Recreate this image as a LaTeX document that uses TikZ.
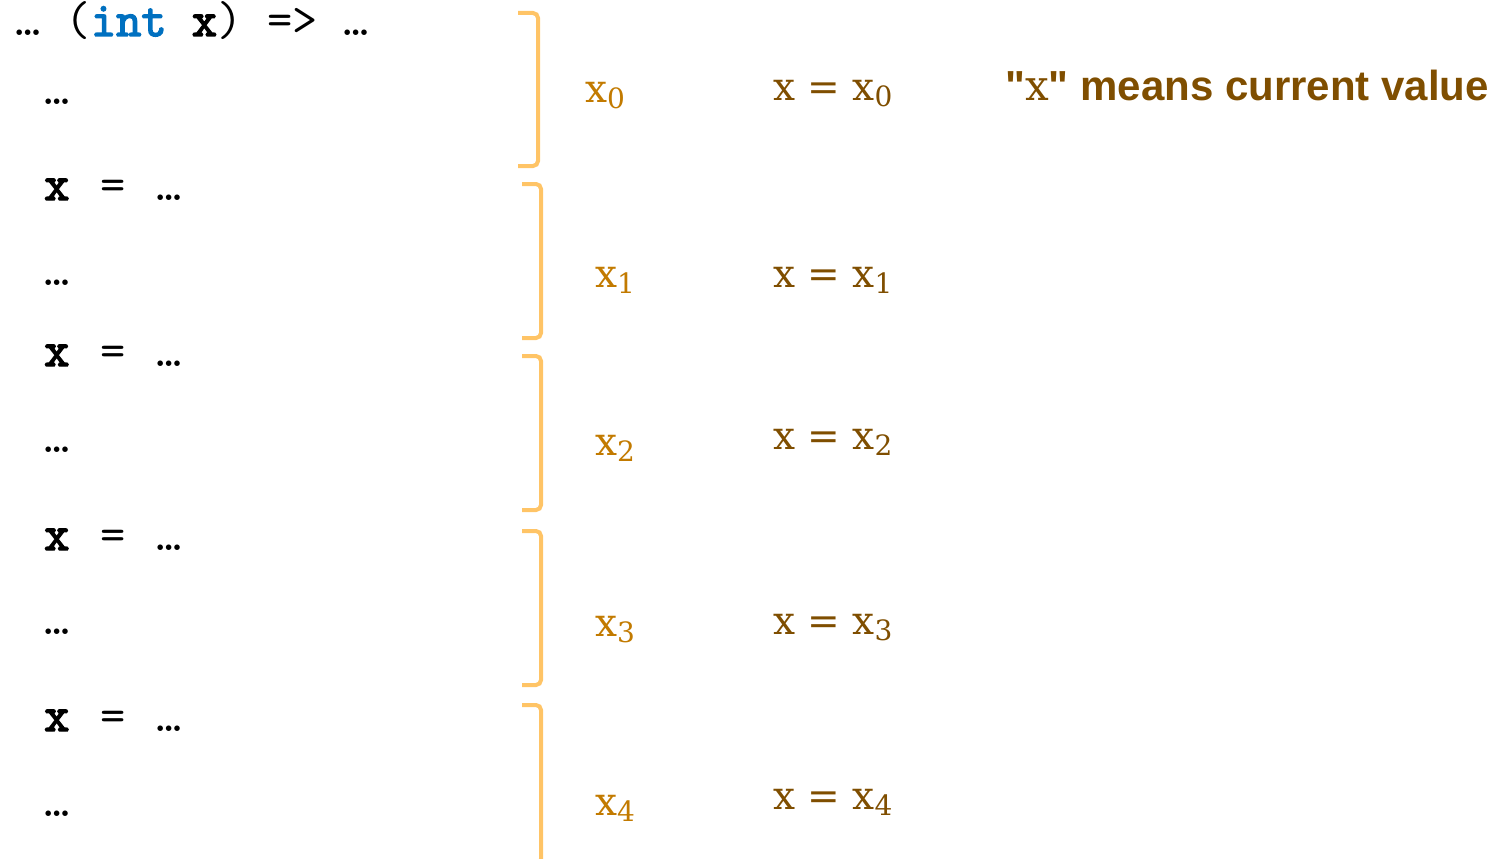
\documentclass[tikz,border=0pt]{standalone}
\usepackage{fontspec}
\setsansfont{Liberation Sans}
\newfontfamily\valfont{DejaVu Serif}
\newfontfamily\codebf{Latin Modern Mono}[FakeBold=3]
\usetikzlibrary{positioning}
\definecolor{bracecol}{HTML}{FFC466}
\definecolor{labcol}{HTML}{C27A00}
\definecolor{valcol}{HTML}{7F4E00}
\definecolor{kwcol}{HTML}{0070C0}
\newcommand{\codefont}{\ttfamily\fontsize{49}{52}\selectfont}
\newcommand{\sub}[1]{\raisebox{-6pt}{\fontsize{28}{30}\selectfont #1}}
\newcommand{\assign}{{\codebf x}\hspace{31.3pt}=\hspace{30.3pt}…}

\begin{document}
\begin{tikzpicture}[x=1pt, y=-1pt,
  code/.style={anchor=base west, inner sep=0pt, font=\codefont},
  lab/.style={anchor=base west, inner sep=0pt, text=labcol,
              font=\valfont\fontsize{39}{41}\selectfont},
  val/.style={anchor=base west, inner sep=0pt, text=valcol,
              font=\valfont\fontsize{39}{41}\selectfont},
  note/.style={anchor=base west, inner sep=0pt, text=valcol,
               font=\sffamily\bfseries\fontsize{42}{45}\selectfont},
  brace/.style={draw=bracecol, line width=4pt, rounded corners=5pt}]

  \useasboundingbox (0,0) rectangle (1507,859);

  % code on the left
  \node[code] (head) at (15,36)  {… ({\codebf\color{kwcol}int} {\codebf x}) => …};
  \node[code] (d0)   at (44,104) {…};
  \node[code] (a1)   at (44,200) {\assign};
  \node[code] (d1)   at (44,285) {…};
  \node[code] (a2)   at (44,366) {\assign};
  \node[code] (d2)   at (44,452) {…};
  \node[code] (a3)   at (44,550) {\assign};
  \node[code] (d3)   at (44,634) {…};
  \node[code] (a4)   at (44,731) {\assign};
  \node[code] (d4)   at (44,816) {…};

  % brackets
  \draw[brace] (518,13) -- (538,13) -- (538,166) -- (518,166);
  \foreach \top/\bot in {184/338, 356/510, 531/685, 705/864}
    \draw[brace] (522,\top) -- (541,\top) -- (541,\bot) -- (522,\bot);

  % values
  \node[lab] (x0) at (585,102) {x\sub{0}};
  \node[lab] (x1) at (595,287) {x\sub{1}};
  \node[lab] (x2) at (595,455) {x\sub{2}};
  \node[lab] (x3) at (595,636) {x\sub{3}};
  \node[lab] (x4) at (595,815) {x\sub{4}};

  \node[val] (v0) at (773,100) {x = x\sub{0}};
  \node[val] (v1) at (773,287) {x = x\sub{1}};
  \node[val] (v2) at (773,449) {x = x\sub{2}};
  \node[val] (v3) at (773,634) {x = x\sub{3}};
  \node[val] (v4) at (773,809) {x = x\sub{4}};

  \node[note] (means) at (1005,100)
    {\textquotedbl{\mdseries\valfont x}\textquotedbl{} means current value};
\end{tikzpicture}
\end{document}
